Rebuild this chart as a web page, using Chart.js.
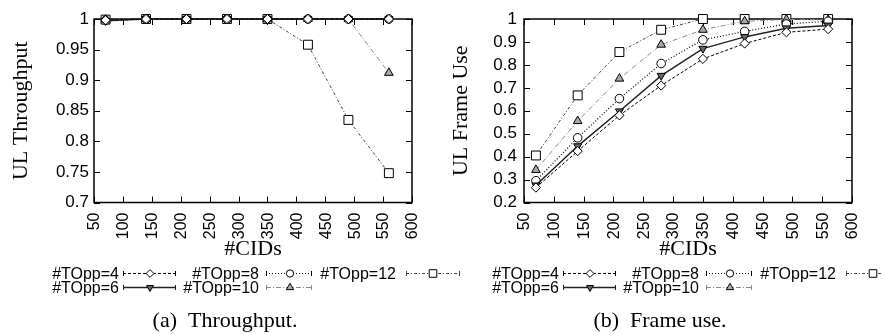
<!DOCTYPE html>
<html lang="en">
<head>
  <meta charset="UTF-8" />
  <title>UL Throughput / UL Frame Use vs #CIDs</title>
  <script src="https://cdn.jsdelivr.net/npm/chart.js"></script>
  <style>
    body {
      margin: 0;
      background: #fff;
      width: 883px;
      height: 334px;
      overflow: hidden;
      position: relative;
    }
    canvas { position: absolute; top: 0; }
    #thrChart { left: 0; }
    #fuChart { left: 440px; }
    .caption {
      position: absolute;
      top: 309px;
      font-family: 'Liberation Serif', 'Times New Roman', serif;
      font-size: 22px;
      line-height: 22px;
      white-space: nowrap;
      transform: translateX(-50%);
      color: #000;
    }
  </style>
</head>
<body>
  <canvas id="thrChart" width="460" height="334"></canvas>
  <canvas id="fuChart" width="443" height="334"></canvas>
  <div class="caption" style="left:225px">(a)&ensp;Throughput.</div>
  <div class="caption" style="left:660px">(b)&ensp;Frame use.</div>

  <script>
    // ---- data ----
    const cids = [70, 140, 210, 280, 350, 420, 490, 560];
    const seriesNames = ['#TOpp=4', '#TOpp=6', '#TOpp=8', '#TOpp=10', '#TOpp=12'];

    // (a) UL throughput
    const thr4  = [0.998, 1, 1, 1, 1, 1, 1, 1];
    const thr6  = [0.997, 1, 1, 1, 1, 1, 1, 1];
    const thr8  = [0.998, 1, 1, 1, 1, 1, 1, 1];
    const thr10 = [0.999, 1, 1, 1, 1, 1, 1, 0.912];
    const thr12 = [0.999, 1, 1, 1, 1, 0.958, 0.835, 0.748];

    // (b) UL frame use
    const fu4  = [0.265, 0.424, 0.580, 0.710, 0.826, 0.893, 0.942, 0.956];
    const fu6  = [0.275, 0.446, 0.598, 0.753, 0.871, 0.922, 0.960, 0.972];
    const fu8  = [0.295, 0.482, 0.653, 0.806, 0.909, 0.946, 0.978, 0.990];
    const fu10 = [0.342, 0.555, 0.740, 0.888, 0.953, 0.990, 0.998, 0.996];
    const fu12 = [0.405, 0.667, 0.856, 0.953, 1.0, 1.0, 1.0, 1.0];

    const xTicks   = [50, 100, 150, 200, 250, 300, 350, 400, 450, 500, 550, 600];
    const thrTicks = [0.7, 0.75, 0.8, 0.85, 0.9, 0.95, 1];
    const fuTicks  = [0.2, 0.3, 0.4, 0.5, 0.6, 0.7, 0.8, 0.9, 1];

    // ---- look ----
    const sansFont = '"Liberation Sans", Arial, sans-serif';
    const serifFont = '"Liberation Serif", "Times New Roman", serif';
    Chart.defaults.color = '#000';

    const styles = [
      { color: '#000', dash: [3, 2],       width: 1,   point: 'rectRot',  r: 4.6, fill: '#fff', rot: 0 },
      { color: '#222', dash: [],           width: 1.5, point: 'triangle', r: 4.6, fill: '#666', rot: 180 },
      { color: '#000', dash: [1, 2],       width: 1.2, point: 'circle',   r: 4.3, fill: '#fff', rot: 0 },
      { color: '#888', dash: [5, 2, 1, 2], width: 1,   point: 'triangle', r: 5,   fill: '#aaa', rot: 0 },
      { color: '#444', dash: [3, 2, 1, 2], width: 1,   point: 'rect',     r: 6.3, fill: '#fff', rot: 0 }
    ];

    // key slots (gnuplot style: text right-aligned, then line sample)
    const keyRows = [279, 293];
    const keySlots = [
      { row: 0, text: 119, from: 123, to: 176, mark: 150 },
      { row: 1, text: 119, from: 123, to: 176, mark: 150 },
      { row: 0, text: 259, from: 266, to: 312, mark: 290 },
      { row: 1, text: 259, from: 266, to: 312, mark: 290 },
      { row: 0, text: 396, from: 406, to: 460, mark: 433 }
    ];

    // box with inward ticks on all four sides + rotated x labels
    const framePlugin = {
      id: 'gpFrame',
      beforeDatasetsDraw(chart) {
        const { ctx, chartArea: a, scales: { x, y } } = chart;
        ctx.save();
        ctx.strokeStyle = '#000';
        ctx.lineWidth = 1;
        ctx.beginPath();
        x.ticks.forEach(t => {
          const px = Math.round(x.getPixelForValue(t.value)) + 0.5;
          ctx.moveTo(px, a.bottom); ctx.lineTo(px, a.bottom - 6);
          ctx.moveTo(px, a.top); ctx.lineTo(px, a.top + 6);
        });
        y.ticks.forEach(t => {
          const py = Math.round(y.getPixelForValue(t.value)) + 0.5;
          ctx.moveTo(a.left, py); ctx.lineTo(a.left + 6, py);
          ctx.moveTo(a.right, py); ctx.lineTo(a.right - 6, py);
        });
        ctx.stroke();
        ctx.lineWidth = 1.5;
        ctx.strokeRect(a.left, a.top, a.right - a.left, a.bottom - a.top);

        ctx.fillStyle = '#000';
        ctx.font = '16px ' + sansFont;
        ctx.textAlign = 'right';
        ctx.textBaseline = 'middle';
        x.ticks.forEach(t => {
          ctx.save();
          ctx.translate(x.getPixelForValue(t.value) + 1, a.bottom + 10);
          ctx.rotate(-Math.PI / 2);
          ctx.fillText(String(t.value), 0, 0);
          ctx.restore();
        });
        ctx.restore();
      }
    };

    const keyPlugin = {
      id: 'gpKey',
      afterDraw(chart) {
        const ctx = chart.ctx;
        ctx.save();
        ctx.font = '16px ' + sansFont;
        ctx.textAlign = 'right';
        ctx.textBaseline = 'alphabetic';
        chart.data.datasets.forEach((ds, i) => {
          const slot = keySlots[i];
          const yb = keyRows[slot.row];
          const ym = yb - 5.5;
          ctx.fillStyle = '#000';
          ctx.fillText(ds.label, slot.text, yb);

          ctx.strokeStyle = ds.borderColor;
          ctx.lineWidth = ds.borderWidth;
          ctx.setLineDash(ds.borderDash);
          ctx.beginPath();
          ctx.moveTo(slot.from, ym); ctx.lineTo(slot.to, ym);
          ctx.stroke();
          ctx.setLineDash([]);
          ctx.lineWidth = 1;
          ctx.beginPath();
          ctx.moveTo(slot.from + 0.5, ym - 2.5); ctx.lineTo(slot.from + 0.5, ym + 2.5);
          ctx.moveTo(slot.to - 0.5, ym - 2.5); ctx.lineTo(slot.to - 0.5, ym + 2.5);
          ctx.stroke();

          ctx.fillStyle = ds.pointBackgroundColor;
          ctx.strokeStyle = ds.pointBorderColor;
          if (Chart.helpers && Chart.helpers.drawPoint) {
            Chart.helpers.drawPoint(ctx, {
              pointStyle: ds.pointStyle,
              rotation: ds.pointRotation,
              radius: ds.pointRadius * 0.85,
              borderWidth: 1
            }, slot.mark, ym);
          }
        });
        ctx.restore();
      }
    };

    function buildSets(seriesList) {
      return seriesList.map((vals, i) => ({
        label: seriesNames[i],
        data: cids.map((c, k) => ({ x: c, y: vals[k] })),
        borderColor: styles[i].color,
        borderWidth: styles[i].width,
        borderDash: styles[i].dash,
        pointStyle: styles[i].point,
        pointRotation: styles[i].rot,
        pointRadius: styles[i].r,
        pointBackgroundColor: styles[i].fill,
        pointBorderColor: '#000',
        pointBorderWidth: 1,
        tension: 0,
        fill: false,
        clip: false
      }));
    }

    function makeChart(canvasId, yTitle, yTicks, seriesList, axisWidth, padRight, yTickPad) {
      return new Chart(document.getElementById(canvasId), {
        type: 'line',
        data: { datasets: buildSets(seriesList) },
        options: {
          responsive: false,
          animation: false,
          events: [],
          layout: { padding: { left: 0, top: 19, right: padRight, bottom: 71.5 } },
          plugins: { legend: { display: false }, tooltip: { enabled: false } },
          scales: {
            x: {
              type: 'linear',
              min: xTicks[0],
              max: xTicks[xTicks.length - 1],
              afterBuildTicks: s => { s.ticks = xTicks.map(v => ({ value: v })); },
              afterFit: s => { s.height = 60; },
              grid: { display: false, drawTicks: false },
              border: { display: false },
              ticks: { display: false },
              title: {
                display: true,
                text: '#CIDs',
                font: { family: serifFont, size: 22 },
                padding: { top: 0, bottom: 0 }
              }
            },
            y: {
              type: 'linear',
              min: yTicks[0],
              max: yTicks[yTicks.length - 1],
              afterBuildTicks: s => { s.ticks = yTicks.map(v => ({ value: v })); },
              afterFit: s => { s.width = axisWidth; },
              grid: { display: false, drawTicks: false },
              border: { display: false },
              ticks: {
                autoSkip: false,
                padding: yTickPad,
                font: { family: sansFont, size: 17 },
                callback: v => String(v)
              },
              title: {
                display: true,
                text: yTitle,
                font: { family: serifFont, size: 22 },
                padding: { top: 8, bottom: 0 }
              }
            }
          }
        },
        plugins: [framePlugin, keyPlugin]
      });
    }

    makeChart('thrChart', 'UL Throughput', thrTicks, [thr4, thr6, thr8, thr10, thr12], 94, 48, 5);
    makeChart('fuChart', 'UL Frame Use', fuTicks, [fu4, fu6, fu8, fu10, fu12], 84, 31, 7);
  </script>
</body>
</html>
